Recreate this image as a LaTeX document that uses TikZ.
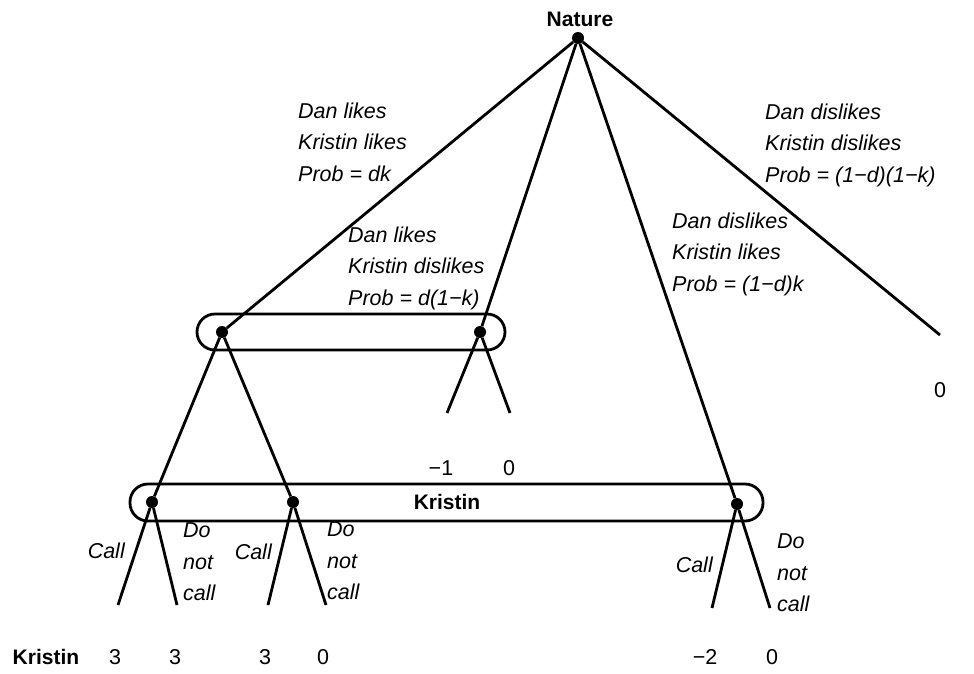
\documentclass[tikz,border=0pt]{standalone}
\usepackage{fontspec}
\setmainfont{Liberation Sans}
\begin{document}
\begin{tikzpicture}[x=1pt,y=-1pt,
  edge/.style={line width=2.8pt},
  infoset/.style={line width=2.8pt, rounded corners=18pt},
  dotnode/.style={circle, fill, inner sep=0pt, minimum size=12pt},
  lab/.style={font=\fontsize{21.5}{31.5}\selectfont\itshape, align=left, anchor=west, inner sep=0pt},
  pay/.style={font=\fontsize{21.5}{24}\selectfont, inner sep=0pt},
  boldlab/.style={font=\fontsize{21}{24}\selectfont\bfseries, inner sep=0pt}]
\useasboundingbox (0,0) rectangle (974,673);

% information sets
\draw[infoset] (197,314) rectangle (505,350);
\draw[infoset] (130,484) rectangle (763,521);

% decision nodes
\node[dotnode] (nature) at (578,38) {};
\node[dotnode] (a) at (222,332) {};
\node[dotnode] (b) at (480,332) {};
\node[dotnode] (c) at (737,504) {};
\node[dotnode] (d) at (152,502) {};
\node[dotnode] (e) at (293,502) {};

% terminal points
\coordinate (t4) at (940,335);
\coordinate (b1) at (447,413);
\coordinate (b2) at (510,413);
\coordinate (d1) at (118,605);
\coordinate (d2) at (177,605);
\coordinate (e1) at (268,605);
\coordinate (e2) at (326,605);
\coordinate (c1) at (712,608);
\coordinate (c2) at (770,608);

% edges
\draw[edge] (nature) -- (a);
\draw[edge] (nature) -- (b);
\draw[edge] (nature) -- (c);
\draw[edge] (nature) -- (t4);
\draw[edge] (a) -- (d);
\draw[edge] (a) -- (e);
\draw[edge] (b) -- (b1);
\draw[edge] (b) -- (b2);
\draw[edge] (d) -- (d1);
\draw[edge] (d) -- (d2);
\draw[edge] (e) -- (e1);
\draw[edge] (e) -- (e2);
\draw[edge] (c) -- (c1);
\draw[edge] (c) -- (c2);

% labels
\node[boldlab] (naturelab) at (580,19) {Nature};
\node[boldlab] (kristinset) at (447,502) {Kristin};

\node[lab] (l1) at (298,142) {Dan likes\\Kristin likes\\Prob = dk};
\node[lab] (l2) at (348,268) {Dan likes\\Kristin dislikes\\Prob = d(1−k)};
\node[lab] (l3) at (765,145) {Dan dislikes\\Kristin dislikes\\Prob = (1−d)(1−k)};
\node[lab] (l4) at (672,254) {Dan dislikes\\Kristin likes\\Prob = (1−d)k};

\node[lab, anchor=east] (call1) at (125,551) {Call};
\node[lab] (dnc1) at (183,562) {Do\\not\\call};
\node[lab, anchor=east] (call2) at (272,552) {Call};
\node[lab] (dnc2) at (327,561) {Do\\not\\call};
\node[lab, anchor=east] (call3) at (713,565) {Call};
\node[lab] (dnc3) at (777,573) {Do\\not\\call};

% payoffs
\node[pay] (p4) at (940,390) {0};
\node[pay] (pb1) at (441,468) {−1};
\node[pay] (pb2) at (509,468) {0};
\node[boldlab] (kristinrow) at (46,657) {Kristin};
\node[pay] (pd1) at (115,657) {3};
\node[pay] (pd2) at (175,657) {3};
\node[pay] (pe1) at (265,657) {3};
\node[pay] (pe2) at (323,657) {0};
\node[pay] (pc1) at (705,657) {−2};
\node[pay] (pc2) at (772,657) {0};
\end{tikzpicture}
\end{document}
